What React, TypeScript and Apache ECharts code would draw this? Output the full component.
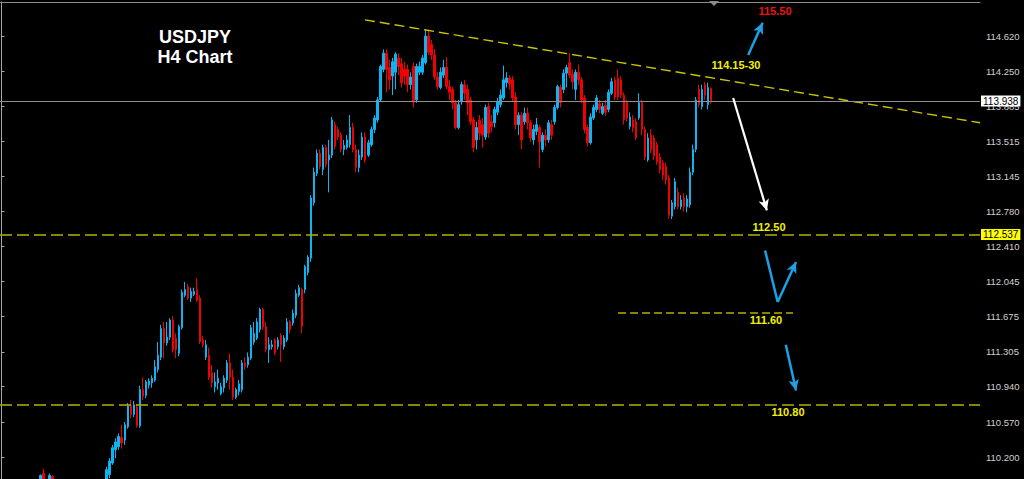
import React, { useEffect, useRef } from "react";
import * as echarts from "echarts";

// ---------- data ----------
const SLOT_COUNT = 326; // bar slots across the plot (incl. empty chart shift on the right)
const FIRST_BAR = 12;
const categories = Array.from({ length: SLOT_COUNT }, (_, i) => String(i));

// [open, close, low, high]; null = bar entirely below the visible range
const candles: (number[] | null)[] = [
  // 12
  null,
  [109.88, 110.01, 109.85, 110.02],
  [110.03, 109.86, 109.83, 110.08],
  null,
  [109.9, 110.01, 109.87, 110.03],
  [110.0, 109.9, 109.85, 110.01],
  // 18-34
  null, null, null, null, null, null, null, null, null, null, null, null, null, null, null, null, null,
  // 35
  [109.86, 110.07, 109.83, 110.1],
  [110.02, 110.16, 109.98, 110.19],
  [110.14, 110.3, 110.12, 110.33],
  [110.28, 110.36, 110.19, 110.4],
  [110.31, 110.42, 110.28, 110.45],
  [110.41, 110.35, 110.29, 110.54],
  [110.38, 110.54, 110.33, 110.57],
  [110.52, 110.74, 110.5, 110.77],
  [110.74, 110.65, 110.61, 110.8],
  [110.65, 110.75, 110.62, 110.79],
  // 45
  [110.73, 110.53, 110.51, 110.76],
  [110.53, 110.91, 110.51, 110.95],
  [110.91, 110.84, 110.8, 111.04],
  [110.85, 110.99, 110.82, 111.01],
  [110.96, 111.0, 110.92, 111.03],
  [110.98, 111.03, 110.93, 111.06],
  [111.01, 111.15, 110.99, 111.22],
  [111.12, 111.27, 111.09, 111.41],
  [111.25, 111.55, 111.22, 111.59],
  [111.55, 111.4, 111.24, 111.62],
  // 55
  [111.4, 111.46, 111.37, 111.62],
  [111.46, 111.64, 111.43, 111.66],
  [111.64, 111.33, 111.3, 111.68],
  [111.45, 111.33, 111.24, 111.5],
  [111.29, 111.57, 111.26, 111.59],
  [111.56, 111.93, 111.54, 111.96],
  [111.9, 111.96, 111.88, 112.04],
  [111.99, 111.87, 111.85, 112.02],
  [111.87, 111.94, 111.83, 111.98],
  [111.91, 111.94, 111.89, 111.98],
  // 65
  [111.96, 111.85, 111.83, 112.08],
  [111.87, 111.41, 111.39, 111.9],
  [111.43, 111.38, 111.35, 111.47],
  [111.25, 111.38, 111.22, 111.43],
  [111.27, 111.04, 111.01, 111.35],
  [111.09, 110.98, 110.93, 111.17],
  [110.94, 110.99, 110.88, 111.09],
  [110.98, 111.03, 110.91, 111.12],
  [110.87, 110.94, 110.85, 110.98],
  [110.93, 111.03, 110.88, 111.06],
  // 75
  [111.01, 111.19, 110.98, 111.22],
  [111.19, 111.04, 110.91, 111.29],
  [111.04, 110.83, 110.8, 111.12],
  [110.83, 110.91, 110.81, 110.93],
  [110.89, 110.97, 110.85, 111.01],
  [110.91, 111.19, 110.88, 111.22],
  [111.19, 111.15, 111.12, 111.25],
  [111.17, 111.25, 111.14, 111.3],
  [111.24, 111.56, 111.22, 111.59],
  [111.41, 111.5, 111.38, 111.62],
  // 85
  [111.45, 111.62, 111.43, 111.66],
  [111.54, 111.75, 111.51, 111.77],
  [111.75, 111.57, 111.54, 111.77],
  [111.57, 111.33, 111.3, 111.62],
  [111.33, 111.38, 111.19, 111.46],
  [111.36, 111.38, 111.33, 111.43],
  [111.43, 111.3, 111.27, 111.45],
  [111.36, 111.43, 111.33, 111.46],
  [111.48, 111.38, 111.2, 111.5],
  [111.36, 111.45, 111.33, 111.48],
  // 95
  [111.43, 111.62, 111.41, 111.66],
  [111.62, 111.54, 111.5, 111.64],
  [111.61, 111.71, 111.58, 111.75],
  [111.69, 111.92, 111.66, 111.96],
  [111.9, 111.98, 111.88, 112.01],
  [111.96, 111.57, 111.5, 111.98],
  [111.96, 112.2, 111.92, 112.22],
  [112.14, 112.3, 112.11, 112.32],
  [112.29, 112.92, 112.25, 112.95],
  [112.87, 113.19, 112.84, 113.24],
  // 105
  [113.18, 113.39, 113.15, 113.43],
  [113.39, 113.25, 113.22, 113.43],
  [113.22, 113.45, 113.16, 113.48],
  [113.45, 113.27, 113.24, 113.48],
  [113.32, 113.37, 112.98, 113.53],
  [113.37, 113.74, 113.34, 113.77],
  [113.69, 113.46, 113.43, 113.72],
  [113.64, 113.56, 113.53, 113.67],
  [113.58, 113.43, 113.4, 113.61],
  [113.43, 113.47, 113.37, 113.53],
  // 115
  [113.45, 113.53, 113.43, 113.58],
  [113.48, 113.66, 113.45, 113.79],
  [113.66, 113.43, 113.4, 113.71],
  [113.43, 113.24, 113.19, 113.48],
  [113.24, 113.37, 113.19, 113.43],
  [113.35, 113.56, 113.32, 113.61],
  [113.56, 113.32, 113.29, 113.61],
  [113.37, 113.5, 113.35, 113.53],
  [113.48, 113.64, 113.46, 113.67],
  [113.64, 113.76, 113.6, 113.79],
  // 125
  [113.74, 113.95, 113.71, 113.98],
  [113.95, 114.3, 113.93, 114.32],
  [114.27, 114.44, 114.24, 114.48],
  [114.44, 114.27, 114.03, 114.48],
  [114.29, 114.16, 114.06, 114.37],
  [114.2, 114.35, 114.0, 114.39],
  [114.24, 114.43, 114.06, 114.45],
  [114.39, 114.3, 114.21, 114.44],
  [114.33, 114.13, 114.08, 114.39],
  [114.27, 114.2, 114.11, 114.35],
  // 135
  [114.27, 114.11, 114.03, 114.32],
  [114.11, 114.19, 114.06, 114.24],
  [114.3, 113.93, 113.87, 114.34],
  [113.95, 114.3, 113.92, 114.33],
  [114.24, 114.3, 114.21, 114.35],
  [114.24, 114.39, 114.21, 114.42],
  [114.34, 114.62, 114.32, 114.69],
  [114.62, 114.45, 114.42, 114.69],
  [114.53, 114.42, 114.37, 114.58],
  [114.42, 114.19, 114.16, 114.48],
  // 145
  [114.19, 114.09, 114.06, 114.24],
  [114.08, 114.24, 114.06, 114.29],
  [114.21, 114.29, 114.18, 114.37],
  [114.29, 114.09, 114.06, 114.4],
  [114.09, 114.03, 113.95, 114.16],
  [114.06, 113.92, 113.85, 114.09],
  [113.92, 113.66, 113.64, 113.95],
  [113.66, 113.9, 113.64, 113.95],
  [113.93, 114.11, 113.9, 114.14],
  [114.11, 114.02, 113.95, 114.16],
  // 155
  [114.06, 113.92, 113.79, 114.11],
  [113.95, 113.72, 113.69, 113.98],
  [113.74, 113.45, 113.4, 113.77],
  [113.53, 113.66, 113.43, 113.72],
  [113.74, 113.6, 113.53, 113.79],
  [113.69, 113.58, 113.45, 113.76],
  [113.56, 113.87, 113.53, 113.9],
  [113.88, 113.6, 113.55, 113.92],
  [113.72, 113.67, 113.61, 113.79],
  [113.71, 113.85, 113.66, 113.88],
  // 165
  [113.82, 113.93, 113.79, 113.97],
  [113.9, 114.0, 113.87, 114.06],
  [113.97, 114.16, 113.95, 114.31],
  [114.13, 114.18, 114.08, 114.24],
  [114.18, 114.12, 114.06, 114.21],
  [114.16, 113.97, 113.93, 114.2],
  [113.98, 113.69, 113.64, 114.03],
  [113.69, 113.79, 113.58, 113.82],
  [113.79, 113.53, 113.43, 113.82],
  [113.72, 113.81, 113.69, 113.87],
  // 175
  [113.81, 113.71, 113.64, 113.87],
  [113.71, 113.55, 113.51, 113.74],
  [113.53, 113.64, 113.48, 113.69],
  [113.62, 113.69, 113.58, 113.76],
  [113.66, 113.51, 113.24, 113.69],
  [113.43, 113.58, 113.4, 113.61],
  [113.58, 113.53, 113.46, 113.64],
  [113.53, 113.71, 113.5, 113.74],
  [113.69, 113.58, 113.53, 113.74],
  [113.72, 113.87, 113.69, 113.9],
  // 185
  [113.87, 114.09, 113.85, 114.11],
  [114.08, 113.92, 113.87, 114.11],
  [114.06, 114.23, 114.02, 114.27],
  [114.23, 114.29, 114.08, 114.32],
  [114.34, 114.21, 114.18, 114.44],
  [114.22, 114.14, 114.06, 114.27],
  [114.06, 114.24, 113.95, 114.27],
  [114.24, 114.16, 114.11, 114.32],
  [114.16, 113.95, 113.92, 114.19],
  [113.97, 113.64, 113.6, 114.0],
  // 195
  [113.66, 113.5, 113.46, 113.69],
  [113.5, 113.77, 113.48, 113.81],
  [113.76, 113.87, 113.74, 113.9],
  [113.85, 113.97, 113.82, 114.0],
  [113.91, 113.85, 113.81, 113.95],
  [113.81, 113.88, 113.79, 113.92],
  [113.89, 113.82, 113.78, 113.95],
  [113.85, 114.03, 113.82, 114.06],
  [114.02, 114.14, 114.0, 114.18],
  [114.16, 113.98, 113.95, 114.19],
  // 205
  [114.18, 113.98, 113.95, 114.27],
  [114.16, 114.0, 113.97, 114.2],
  [114.0, 113.74, 113.69, 114.03],
  [113.92, 113.76, 113.72, 113.95],
  [113.67, 113.77, 113.64, 113.82],
  [113.74, 113.66, 113.61, 113.79],
  [113.72, 113.55, 113.53, 113.76],
  [113.76, 113.92, 113.74, 114.02],
  [113.92, 113.64, 113.58, 113.95],
  [113.64, 113.35, 113.32, 113.67],
  // 215
  [113.32, 113.55, 113.3, 113.6],
  [113.58, 113.43, 113.39, 113.64],
  [113.55, 113.36, 113.32, 113.58],
  [113.48, 113.3, 113.27, 113.51],
  [113.35, 113.22, 113.18, 113.39],
  [113.29, 113.16, 113.11, 113.32],
  [113.25, 113.11, 113.06, 113.29],
  [113.13, 112.74, 112.7, 113.16],
  [112.73, 112.87, 112.7, 112.9],
  [112.83, 113.09, 112.8, 113.13],
  // 225
  [112.98, 112.83, 112.8, 113.03],
  [112.83, 112.9, 112.8, 112.95],
  [112.92, 112.83, 112.78, 112.97],
  [112.83, 112.91, 112.77, 112.95],
  [112.85, 113.19, 112.82, 113.24],
  [113.19, 113.43, 113.16, 113.48],
  [113.43, 113.95, 113.4, 113.98],
  [114.06, 113.9, 113.87, 114.11],
  [113.88, 114.06, 113.85, 114.11],
  [114.11, 114.0, 113.95, 114.14],
  [113.9, 114.08, 113.85, 114.13],
  [114.07, 113.94, 113.91, 114.08],
];

const tickValues = [
  114.62, 114.25, 113.885, 113.515, 113.145, 112.78, 112.41, 112.045, 111.675, 111.305, 110.94, 110.57, 110.2,
];
const priceMin = 109.972;
const priceMax = 114.977;

const bidPrice = 113.938;
const alertPrice = 112.537;
const supportPrice = 110.755;
const midTargetLine = [[205.1, 111.72], [263.3, 111.72]];
const trendLine = [[120.9, 114.79], [325.5, 113.71]];
const arrowBlueUp = [[248.4, 114.42], [253.2, 114.76]];
const arrowWhiteDown = [[243.4, 113.97], [254.6, 112.79]];
const arrowBlueV = [[254.0, 112.37], [258.2, 111.83], [264.3, 112.25]];
const arrowBlueDown = [[260.9, 111.38], [264.3, 110.9]];

// ---------- styling ----------
const BULL = "#0cb5f2";
const BEAR = "#f00000";
const OLIVE = "#b4b000";
const ARROW_BLUE = "#1ca0e6";
const FONT = "Liberation Sans, Arial, sans-serif";

function seg(a: number[], b: number[], color: string, width: number, arrow: boolean, size: number[]) {
  return [
    { coord: a, symbol: "none", lineStyle: { color, width, type: "solid" } },
    { coord: b, symbol: arrow ? "arrow" : "none", symbolSize: size },
  ];
}

function buildOption(): any {
  const seriesData = categories.map((_, i) => {
    const c = candles[i - FIRST_BAR];
    return c ? c : ["-", "-", "-", "-"];
  });

  const text = (x: number, y: number, t: string, fill: string, font: string) => ({
    type: "text",
    x,
    y,
    silent: true,
    style: {
      text: t,
      fill,
      font,
      align: "center",
      verticalAlign: "middle",
      textAlign: "center",
      textVerticalAlign: "middle",
    },
  });

  return {
    animation: false,
    backgroundColor: "#000000",
    grid: { left: 0, right: 44, top: 2, bottom: 0, containLabel: false },
    xAxis: [
      {
        type: "category",
        data: categories,
        position: "top",
        boundaryGap: true,
        axisLine: { show: true, lineStyle: { color: "#8c8c8c", width: 1 } },
        axisTick: { show: false },
        axisLabel: { show: false },
        splitLine: { show: false },
      },
      {
        type: "value",
        min: -0.5,
        max: SLOT_COUNT - 0.5,
        show: false,
      },
    ],
    yAxis: {
      type: "value",
      position: "right",
      min: priceMin,
      max: priceMax,
      splitLine: { show: false },
      axisLine: { show: true, lineStyle: { color: "#a8a8a8", width: 1 } },
      axisTick: {
        show: true,
        length: 3,
        customValues: tickValues,
        lineStyle: { color: "#a8a8a8" },
      },
      axisLabel: {
        customValues: tickValues,
        formatter: (v: number) => v.toFixed(3),
        color: "#d0d0d0",
        fontSize: 9.5,
        fontFamily: FONT,
        margin: 6,
      },
    },
    graphic: [
      text(195, 37, "USDJPY", "#ffffff", `bold 18px ${FONT}`),
      text(195, 57, "H4 Chart", "#ffffff", `bold 18px ${FONT}`),
      text(775, 11, "115.50", "#ee1111", `bold 11px ${FONT}`),
      text(736, 65, "114.15-30", "#f0f000", `bold 11px ${FONT}`),
      text(769, 227, "112.50", "#f0f000", `bold 11px ${FONT}`),
      text(766, 320, "111.60", "#f0f000", `bold 11px ${FONT}`),
      text(788, 412, "110.80", "#f0f000", `bold 11px ${FONT}`),
      {
        type: "polygon",
        silent: true,
        shape: { points: [[709, 1], [719, 1], [714, 6]] },
        style: { fill: "#8c8c8c" },
      },
    ],
    series: [
      {
        type: "candlestick",
        name: "USDJPY",
        xAxisIndex: 0,
        yAxisIndex: 0,
        data: seriesData,
        clip: true,
        barWidth: 2,
        itemStyle: {
          color: BULL,
          color0: BEAR,
          borderColor: BULL,
          borderColor0: BEAR,
          borderWidth: 1,
        },
        markLine: {
          silent: true,
          animation: false,
          symbol: ["none", "none"],
          precision: 3,
          data: [
            {
              yAxis: supportPrice,
              lineStyle: { color: OLIVE, width: 1.6, type: [12, 5] },
              label: { show: false },
            },
            {
              yAxis: alertPrice,
              lineStyle: { color: OLIVE, width: 1.6, type: [12, 5] },
              label: {
                show: true,
                position: "end",
                distance: 1,
                formatter: () => alertPrice.toFixed(3),
                backgroundColor: "#ffff00",
                color: "#000000",
                fontSize: 10,
                fontFamily: FONT,
                padding: [1, 2, 0, 2],
              },
            },
            {
              yAxis: bidPrice,
              lineStyle: { color: "#8f8f8f", width: 1, type: "solid" },
              label: {
                show: true,
                position: "end",
                distance: 1,
                formatter: () => bidPrice.toFixed(3),
                backgroundColor: "#ffffff",
                color: "#000000",
                fontSize: 10,
                fontFamily: FONT,
                padding: [1, 2, 0, 2],
              },
            },
          ],
        },
      },
      {
        type: "line",
        name: "trend",
        xAxisIndex: 1,
        yAxisIndex: 0,
        data: trendLine,
        symbol: "none",
        silent: true,
        lineStyle: { color: "#c8c400", width: 1.4, type: [10, 5] },
        markLine: {
          silent: true,
          animation: false,
          label: { show: false },
          data: [
            [
              { coord: midTargetLine[0], symbol: "none", lineStyle: { color: OLIVE, width: 1.6, type: [8, 4] } },
              { coord: midTargetLine[1], symbol: "none" },
            ],
            seg(arrowBlueUp[0], arrowBlueUp[1], ARROW_BLUE, 2.5, true, [8, 11]),
            seg(arrowWhiteDown[0], arrowWhiteDown[1], "#ffffff", 2.2, true, [8, 11]),
            seg(arrowBlueV[0], arrowBlueV[1], ARROW_BLUE, 2.5, false, [8, 11]),
            seg(arrowBlueV[1], arrowBlueV[2], ARROW_BLUE, 2.5, true, [8, 11]),
            seg(arrowBlueDown[0], arrowBlueDown[1], ARROW_BLUE, 2.5, true, [8, 11]),
          ],
        },
      },
    ],
  };
}

export default function App() {
  const ref = useRef<HTMLDivElement>(null);
  useEffect(() => {
    document.body.style.margin = "0";
    document.body.style.background = "#000";
    const chart = echarts.init(ref.current as HTMLDivElement, null, { renderer: "svg" });
    chart.setOption(buildOption());
    return () => chart.dispose();
  }, []);
  return (
    <div
      ref={ref}
      style={{ position: "absolute", left: 0, top: 0, width: 1024, height: 479, background: "#000" }}
    />
  );
}
